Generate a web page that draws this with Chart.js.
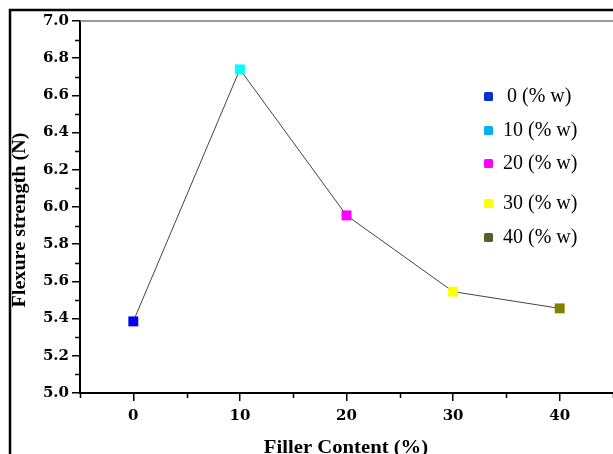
<!DOCTYPE html>
<html>
<head>
<meta charset="utf-8">
<script src="https://cdn.jsdelivr.net/npm/chart.js@4"></script>
<style>
html,body{margin:0;padding:0;background:#fff;overflow:hidden;}
#wrap{width:613px;height:454px;position:relative;overflow:hidden;}
</style>
</head>
<body>
<div id="wrap"><canvas id="c" width="620" height="454"></canvas></div>
<script>
const fillerContent = [0, 10, 20, 30, 40];
const flexureStrength = [5.385, 6.74, 5.955, 5.545, 5.455];
const pointColors = ['#0000ff', '#00ffff', '#ff00ff', '#ffff00', '#808000'];
const legendLabels = ['0 (% w)', '10 (% w)', '20 (% w)', '30 (% w)', '40 (% w)'];
const legendColors = ['#0033cc', '#00b0f0', '#ff00ff', '#ffff00', '#4f6228'];
const xTickValues = [0, 10, 20, 30, 40];
const yTickValues = [5.0, 5.2, 5.4, 5.6, 5.8, 6.0, 6.2, 6.4, 6.6, 6.8, 7.0];
const xMinorTicks = [-5, 5, 15, 25, 35, 45];
const yMinorTicks = [5.1, 5.3, 5.5, 5.7, 5.9, 6.1, 6.3, 6.5, 6.7, 6.9];
const xTitle = 'Filler Content (%)';
const yTitle = 'Flexure strength (N)';

const serif = "'Liberation Serif', 'Times New Roman', serif";
const tickFont = "'DejaVu Serif', serif";

const decor = {
  id: 'decor',
  beforeDraw(chart) {
    const ctx = chart.ctx;
    ctx.save();
    ctx.fillStyle = '#fff';
    ctx.fillRect(0, 0, chart.width, chart.height);
    ctx.restore();
  },
  afterDraw(chart) {
    const ctx = chart.ctx;
    const a = chart.chartArea;
    const xs = chart.scales.x, ys = chart.scales.y;
    ctx.save();
    // outer frame
    ctx.strokeStyle = '#000';
    ctx.lineWidth = 2.5;
    ctx.beginPath();
    ctx.moveTo(10, chart.height + 2);
    ctx.lineTo(10, 10);
    ctx.lineTo(chart.width + 2, 10);
    ctx.stroke();
    // top plot line
    ctx.strokeStyle = '#777';
    ctx.lineWidth = 1.5;
    ctx.beginPath();
    ctx.moveTo(a.left, a.top);
    ctx.lineTo(a.right, a.top);
    ctx.stroke();
    // minor ticks
    ctx.strokeStyle = '#000';
    ctx.lineWidth = 1.5;
    ctx.beginPath();
    xMinorTicks.forEach(v => {
      const px = Math.round(xs.getPixelForValue(v)) + 0.5;
      ctx.moveTo(px, a.bottom);
      ctx.lineTo(px, a.bottom + 5);
    });
    yMinorTicks.forEach(v => {
      const py = Math.round(ys.getPixelForValue(v)) + 0.5;
      ctx.moveTo(a.left, py);
      ctx.lineTo(a.left - 5, py);
    });
    ctx.stroke();
    // axis titles
    ctx.fillStyle = '#000';
    ctx.font = "bold 18px " + serif;
    ctx.textAlign = 'center';
    ctx.textBaseline = 'middle';
    ctx.save();
    ctx.translate(346, 448);
    ctx.scale(1.15, 1);
    ctx.fillText(xTitle, 0, 0);
    ctx.restore();
    ctx.save();
    ctx.translate(20, 220);
    ctx.rotate(-Math.PI / 2);
    ctx.scale(1.12, 1);
    ctx.fillText(yTitle, 0, 0);
    ctx.restore();
    // legend
    const lx = 488, rows = [96, 130, 163, 203, 237];
    ctx.font = "20px " + serif;
    ctx.textAlign = 'left';
    legendLabels.forEach((lab, i) => {
      ctx.fillStyle = legendColors[i];
      ctx.beginPath();
      if (ctx.roundRect) ctx.roundRect(lx - 4, rows[i] - 4, 9, 9, 1.5);
      else ctx.rect(lx - 4, rows[i] - 4, 9, 9);
      ctx.fill();
      ctx.fillStyle = '#000';
      ctx.fillText(lab, i === 0 ? 507 : 503, rows[i] + 1);
    });
    ctx.restore();
  }
};

new Chart(document.getElementById('c'), {
  type: 'line',
  data: {
    datasets: [{
      data: fillerContent.map((x, i) => ({ x: x, y: flexureStrength[i] })),
      borderColor: '#444',
      borderWidth: 1,
      pointStyle: 'rect',
      pointRadius: 7,
      pointBorderWidth: 0,
      pointBackgroundColor: pointColors,
      pointBorderColor: pointColors,
      tension: 0
    }]
  },
  plugins: [decor],
  options: {
    responsive: false,
    animation: false,
    events: [],
    layout: { padding: { left: 10, top: 21, right: 0, bottom: 0 } },
    plugins: { legend: { display: false }, tooltip: { enabled: false } },
    scales: {
      x: {
        type: 'linear',
        min: -5, max: 45,
        afterBuildTicks: s => { s.ticks = xTickValues.map(v => ({ value: v })); },
        afterFit: s => { s.height = 61; },
        grid: { drawOnChartArea: false, drawTicks: true, tickLength: 8, color: '#000', lineWidth: 1.5 },
        border: { display: true, color: '#000', width: 2 },
        ticks: { color: '#000', padding: 6, maxRotation: 0, font: { family: tickFont, size: 15, weight: 'bold' }, callback: v => String(v) }
      },
      y: {
        type: 'linear',
        min: 5, max: 7,
        afterBuildTicks: s => { s.ticks = yTickValues.map(v => ({ value: v })); },
        afterFit: s => { s.width = 70; },
        grid: { drawOnChartArea: false, drawTicks: true, tickLength: 8, color: '#000', lineWidth: 1.5 },
        border: { display: true, color: '#000', width: 2 },
        ticks: { color: '#000', padding: 3, font: { family: tickFont, size: 15, weight: 'bold' }, callback: v => Number(v).toFixed(1) }
      }
    }
  }
});
</script>
</body>
</html>
